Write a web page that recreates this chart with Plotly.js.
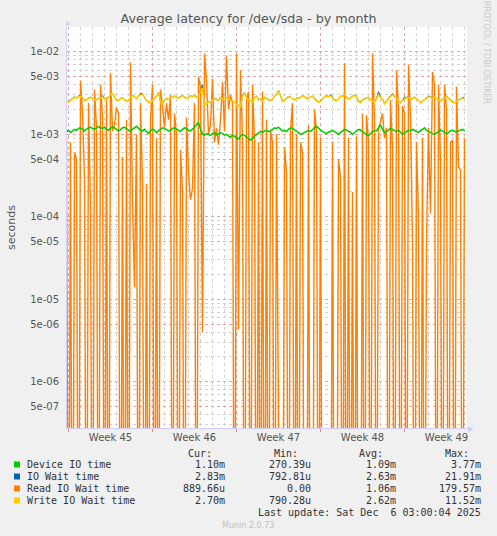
<!DOCTYPE html>
<html>
<head>
<meta charset="utf-8">
<script src="https://cdn.plot.ly/plotly-3.0.1.min.js"></script>
<style>
  html, body { margin: 0; padding: 0; background: #f0f0f0; }
  #chart { width: 497px; height: 536px; }
</style>
</head>
<body>
<div id="chart"></div>
<script>
// samples every 4 hours, starting 2025-11-02 20:00, values in milliseconds
const startTime = Date.UTC(2025, 10, 2, 20, 0, 0);
const stepMs = 4 * 3600 * 1000;

const deviceMs = [
  1.08,1.12,1.05,1.1,1.15,1.12,1.18,1.2,1.14,1.1, 1.16,1.2,1.22,1.18,1.15,1.2,1.25,1.2,1.18,1.22,
  1.15,1.12,1.18,1.24,1.2,1.15,1.1,1.14,1.2,1.22, 1.18,1.12,1.08,1.15,1.2,1.25,1.18,1.12,1.1,1.15,
  1.08,1.02,1.1,1.16,1.12,1.05,1.1,1.15,1.2,1.18, 1.14,1.1,1.12,1.18,1.2,1.16,1.12,1.08,1.15,1.2,
  1.18,1.12,1.1,1.15,1.22,1.3,1.4,1.15,1.0,0.98, 1.02,1.0,0.97,1.02,1.05,0.98,1.0,1.04,1.02,0.98,
  1.0,0.96,0.92,0.98,0.95,0.9,0.88,0.95,1.0,0.97, 0.92,0.88,0.85,0.9,0.95,1.0,1.04,1.08,1.05,1.1,
  1.12,1.08,1.1,1.15,1.2,1.18,1.22,1.15,1.1,1.12, 1.08,1.15,1.2,1.18,1.14,1.1,1.05,1.0,1.03,1.08,
  1.1,1.12,1.08,1.15,1.2,1.25,1.18,1.12,1.08,1.05, 1.02,1.06,1.1,1.12,1.08,1.04,1.0,1.05,1.1,1.15,
  1.12,1.1,1.06,1.0,1.05,1.1,1.15,1.12,1.08,1.04, 1.0,0.96,1.02,1.08,1.12,1.1,1.2,1.3,1.15,1.05,
  1.08,1.12,1.18,1.15,1.1,1.08,1.12,1.05,1.0,1.04, 1.08,1.12,1.1,1.15,1.12,1.08,1.05,1.1,1.15,1.2,
  1.12,1.08,1.05,1.02,1.0,1.04,1.08,1.12,1.1,1.06, 1.02,1.05,1.1,1.12,1.08,1.06,1.1,1.12,1.15,1.1
];

const ioWaitMs = [
  2.52,2.48,2.63,2.72,2.83,2.78,2.93,2.98,2.73,2.58, 2.62,2.78,2.82,2.73,2.68,2.63,2.72,2.78,2.95,2.73,
  2.68,2.82,3.03,3.12,2.83,2.63,2.58,2.72,2.78,2.67, 2.53,2.63,2.82,2.93,2.88,2.72,2.93,3.15,3.1,2.82,
  2.58,2.48,2.43,2.62,2.72,2.93,3.25,2.53,2.33,2.62, 2.72,2.68,2.78,2.88,2.92,2.83,2.78,2.88,2.93,2.83,
  2.78,2.82,2.92,2.88,2.98,2.83,2.93,3.45,4.0,2.25, 2.38,2.53,2.43,2.62,2.73,2.68,2.58,2.82,2.72,2.63,
  2.78,2.72,2.63,2.53,2.48,2.33,2.23,2.18,2.93,3.2, 2.83,2.62,2.58,2.48,2.78,2.92,2.63,2.72,2.58,2.83,
  2.72,2.62,2.58,2.68,2.92,3.02,3.42,2.93,2.53,2.62, 2.78,2.88,2.82,2.73,2.62,2.78,2.72,2.82,2.93,2.88,
  2.73,2.78,2.82,2.93,2.72,2.62,2.48,2.53,2.72,2.88, 2.92,2.88,3.05,2.83,2.63,2.58,2.72,2.88,2.93,3.03,
  2.83,2.68,2.78,2.93,2.98,2.88,2.53,2.5,2.62,2.72, 2.78,2.82,2.62,2.58,2.48,2.72,3.3,2.83,2.68,2.38,
  2.53,2.78,2.92,3.1,2.88,2.72,2.58,2.43,2.62,2.85, 2.78,2.9,2.68,2.72,2.83,2.72,2.58,2.43,2.53,2.68,
  2.72,2.88,2.83,2.85,2.82,2.72,2.62,2.53,2.68,2.8, 2.92,2.78,2.62,2.48,2.43,2.58,2.62,2.72,2.78,2.83
];

const readMs = [
  0.9,0,0.8,0,0.6,0.5,0,4.5,1.8,0.3, 0,2.4,0.13,0,3.5,1.2,0,4.0,1.6,0,
  2.8,0,5.5,1.1,1.3,2.1,1.8,0,0.53,0, 1.5,0,7.5,0.15,0.014,1.0,0,2.4,0.23,0,
  0.25,0,1.5,4.0,0,0.9,0,3.5,2.2,1.2, 2.4,1.5,3.0,0,1.8,1.0,0,0.65,0.2,0,
  1.6,0.35,0.16,0.22,2.4,0,5.0,3.8,0.004,9.5, 4.5,1.0,1.3,4.7,0.8,1.2,0.75,1.5,4.3,1.1,
  9.0,2.0,3.0,2.4,0,9.5,0.0043,6.0,0.9,0, 2.6,3.3,0,4.0,0.85,0,0.8,0,3.3,0,
  1.5,0,1.1,0.8,0,1.0,0,0,0,0.7, 0.35,0,1.1,2.4,0,1.0,0,0.8,0.6,0,
  0,1.3,0,0,2.0,1.1,0,0.9,0,0, 0,0,0,0.8,0,0,0.5,0.3,0,7.3,
  0,0.9,0,0.2,0,0.95,0,0,1.8,0, 1.7,0.8,0,9.6,1.5,0,1.2,1.4,1.8,0.9,
  1.2,0,2.6,0.7,0,6.0,2.0,0,2.2,1.8, 0,7.0,1.6,0.05,0,0.8,0.096,0,0.9,0,
  0.05,1.2,0.11,5.7,4.0,0,4.0,0.45,0,4.0, 2.0,0,0.8,0.85,0,3.8,0.4,0.37,0,0.89
];

const writeMs = [
  2.5,2.45,2.6,2.7,2.8,2.75,2.9,2.85,2.7,2.55, 2.6,2.75,2.8,2.7,2.65,2.6,2.7,2.75,2.8,2.7,
  2.65,2.8,3.0,3.1,2.8,2.6,2.55,2.7,2.75,2.65, 2.5,2.6,2.8,2.9,2.85,2.7,2.9,3.0,3.05,2.8,
  2.55,2.45,2.4,2.6,2.7,2.9,3.2,2.5,2.3,2.6, 2.7,2.65,2.75,2.85,2.9,2.8,2.75,2.85,2.9,2.8,
  2.75,2.8,2.9,2.85,2.95,2.8,2.9,3.3,3.6,2.2, 2.35,2.5,2.4,2.6,2.7,2.65,2.55,2.8,2.7,2.6,
  2.75,2.7,2.6,2.5,2.45,2.3,2.2,2.15,2.9,3.1, 2.8,2.6,2.55,2.45,2.75,2.9,2.6,2.7,2.55,2.8,
  2.7,2.6,2.55,2.65,2.9,3.0,3.4,2.9,2.5,2.6, 2.75,2.85,2.8,2.7,2.6,2.75,2.7,2.8,2.9,2.85,
  2.7,2.75,2.8,2.9,2.7,2.6,2.45,2.5,2.7,2.85, 2.9,2.85,2.95,2.8,2.6,2.55,2.7,2.85,2.9,3.0,
  2.8,2.65,2.75,2.9,2.95,2.85,2.5,2.4,2.6,2.7, 2.75,2.8,2.6,2.55,2.45,2.7,3.0,2.8,2.65,2.35,
  2.5,2.75,2.9,3.0,2.85,2.7,2.55,2.4,2.6,2.7, 2.75,2.8,2.65,2.7,2.8,2.7,2.55,2.4,2.5,2.65,
  2.7,2.85,2.8,2.75,2.8,2.7,2.6,2.5,2.65,2.7, 2.9,2.75,2.6,2.45,2.4,2.55,2.6,2.7,2.75,2.7
];

const seriesNames = ['Device IO time', 'IO Wait time', 'Read IO Wait time', 'Write IO Wait time'];
const seriesColors = ['#00cc00', '#0066b3', '#ff8000', '#ffcc00'];
const seriesWidths = [1.5, 1, 1.4, 1.6];
const curVals = ['1.10m', '2.83m', '889.66u', '2.70m'];
const minVals = ['270.39u', '792.81u', '0.00', '790.28u'];
const avgVals = ['1.09m', '2.63m', '1.06m', '2.62m'];
const maxVals = ['3.77m', '21.91m', '179.57m', '11.52m'];

const weekLabels = ['Week 45', 'Week 46', 'Week 47', 'Week 48', 'Week 49'];
const weekMiddles = ['2025-11-06 12:00', '2025-11-13 12:00', '2025-11-20 12:00', '2025-11-27 12:00', '2025-12-04 12:00'];
const yTickVals = [1e-2, 5e-3, 1e-3, 5e-4, 1e-4, 5e-5, 1e-5, 5e-6, 1e-6, 5e-7];
const yTickText = ['1e-02', '5e-03', '1e-03', '5e-04', '1e-04', '5e-05', '1e-05', '5e-06', '1e-06', '5e-07'];

const xRange = ['2025-11-02 21:00', '2025-12-06 05:00'];
const times = deviceMs.map((v, i) => startTime + i * stepMs);

// zero can't sit on a log axis: push it below the visible floor
const toSeconds = arr => arr.map(v => v > 0 ? v / 1000 : 1e-10);

let minorY = [];
for (let e = -7; e <= -2; e++) {
  [2, 3, 4, 6, 7, 8, 9].forEach(m => minorY.push(m * Math.pow(10, e)));
}

const allSeries = [deviceMs, ioWaitMs, readMs, writeMs];
const traces = allSeries.map((s, k) => ({
  x: times,
  y: toSeconds(s),
  type: 'scatter',
  mode: 'lines',
  name: seriesNames[k],
  line: { color: seriesColors[k], width: seriesWidths[k] },
  xaxis: k === 0 ? 'x2' : 'x',
  hoverinfo: 'skip'
}));

// pixel helpers for the text block under the plot
const L = 67, R = 467, T = 27, B = 428;
const px = x => (x - L) / (R - L);
const py = y => (B - y) / (B - T);

const mono = { family: 'DejaVu Sans Mono, monospace', size: 10, color: '#333' };
let annotations = [];
let shapes = [];

const note = (text, x, y, xanchor, font, extra) => Object.assign({
  text: text, xref: 'paper', yref: 'paper', x: px(x), y: py(y),
  xanchor: xanchor, yanchor: 'middle', showarrow: false, font: font
}, extra || {});

annotations.push(note('seconds', 11, 227, 'center', { family: 'DejaVu Sans', size: 11, color: '#555' }, { textangle: -90 }));
annotations.push(note('RRDTOOL / TOBI OETIKER', 487, 52, 'center', { family: 'DejaVu Sans', size: 8, color: '#c8c8c8' }, { textangle: 90 }));

const headers = ['Cur:', 'Min:', 'Avg:', 'Max:'];
const headerRight = [214, 300, 385, 471];
const colRight = [227, 313, 398, 483];
headers.forEach((h, c) => annotations.push(note(h, headerRight[c], 453, 'right', mono)));

const rowY = [464.5, 476.5, 488.5, 500.5];
seriesNames.forEach((n, r) => {
  annotations.push(note(n, 25, rowY[r], 'left', mono));
  [curVals, minVals, avgVals, maxVals].forEach((col, c) => annotations.push(note(col[r], colRight[c], rowY[r], 'right', mono)));
  shapes.push({ type: 'rect', xref: 'paper', yref: 'paper', x0: px(14), x1: px(20), y0: py(rowY[r] + 3), y1: py(rowY[r] - 3),
    fillcolor: seriesColors[r], line: { width: 0 } });
});

annotations.push(note('Last update: Sat Dec \u00a06 03:00:04 2025', 483, 512.5, 'right', mono));
annotations.push(note('Munin 2.0.73', 248, 525, 'center', { family: 'DejaVu Sans', size: 8, color: '#c0c0c0' }));

// axis arrow heads
annotations.push(note('\u25b2', 67, 23, 'center', { size: 7, color: '#c8c8f8' }));
annotations.push(note('\u25b6', 471, 428, 'center', { size: 7, color: '#c8c8f8' }));

const tickFont = { family: 'DejaVu Sans', size: 10, color: '#555' };

const layout = {
  width: 497,
  height: 536,
  paper_bgcolor: '#f0f0f0',
  plot_bgcolor: '#ffffff',
  margin: { l: L, r: 497 - R, t: T, b: 536 - B },
  showlegend: false,
  title: { text: 'Average latency for /dev/sda - by month', xref: 'container', x: 0.5, y: 1 - 19 / 536,
    yanchor: 'middle', font: { family: 'DejaVu Sans', size: 12.7, color: '#555' } },
  xaxis: {
    type: 'date', range: xRange,
    tickmode: 'array', tickvals: weekMiddles, ticktext: weekLabels,
    ticks: '', showgrid: false, zeroline: false,
    showline: true, linecolor: '#d0d0f8', linewidth: 1,
    tickfont: tickFont,
    minor: { dtick: 86400000, tick0: '2025-11-03', showgrid: true, gridcolor: '#d2d2d2', griddash: 'dot', gridwidth: 1 }
  },
  xaxis2: {
    type: 'date', range: xRange, overlaying: 'x', anchor: 'y', side: 'bottom',
    tickmode: 'linear', tick0: '2025-11-03', dtick: 7 * 86400000,
    showticklabels: false, ticks: 'outside', ticklen: 3, tickcolor: '#f08080',
    showgrid: true, gridcolor: '#f0a0a0', griddash: 'dot', gridwidth: 1, zeroline: false
  },
  yaxis: {
    type: 'log', range: [-6.56, -1.699],
    tickmode: 'array', tickvals: yTickVals, ticktext: yTickText,
    ticks: '', ticklabelstandoff: 5,
    showgrid: true, gridcolor: '#f0a0a0', griddash: 'dot', gridwidth: 1,
    showline: true, linecolor: '#d0d0f8', linewidth: 1, zeroline: false,
    tickfont: tickFont,
    minor: { tickmode: 'array', tickvals: minorY, showgrid: true, gridcolor: '#d2d2d2', griddash: 'dot', gridwidth: 1 }
  },
  annotations: annotations,
  shapes: shapes
};

Plotly.newPlot('chart', traces, layout, { displayModeBar: false, staticPlot: true });
</script>
</body>
</html>
